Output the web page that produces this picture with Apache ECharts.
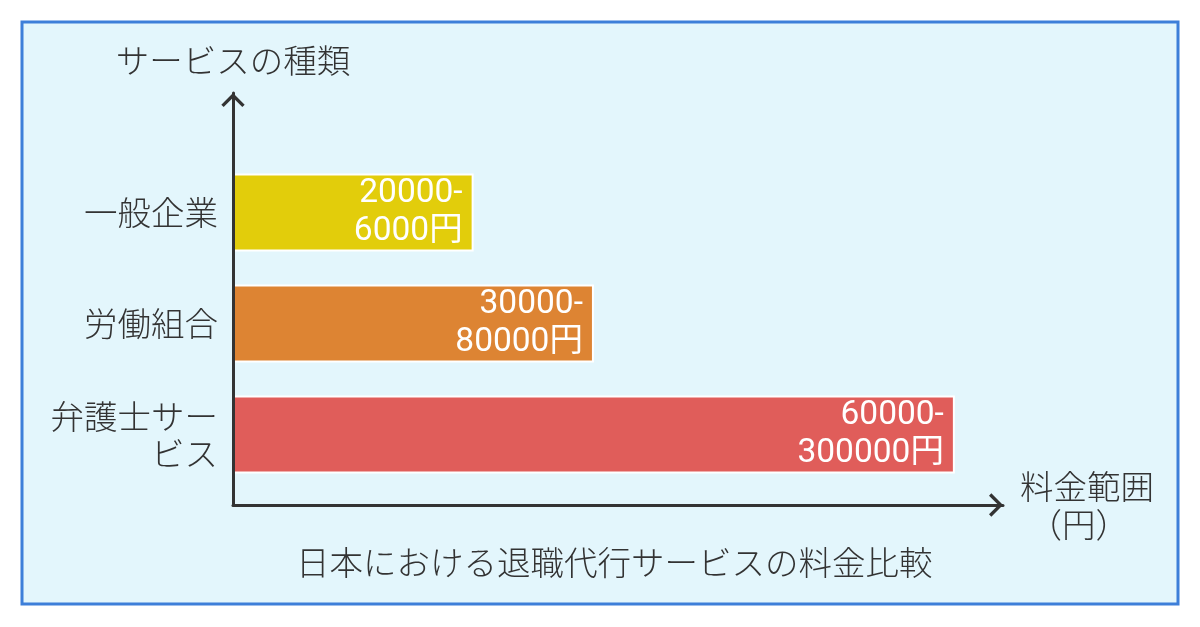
<!DOCTYPE html>
<html>
<head>
<meta charset="utf-8">
<script src="https://cdn.jsdelivr.net/npm/echarts@6/dist/echarts.min.js"></script>
<style>
html,body{margin:0;padding:0;background:#ffffff;}
#chart{width:1200px;height:627px;}
</style>
</head>
<body>
<div id="chart"></div>
<script>
// ---- data ----
const categories = ['一般企業', '労働組合', '弁護士サービス'];
const tickLabels = ['一般企業', '労働組合', '弁護士サー\nビス'];
const lowValues = [20000, 30000, 60000];
const highValues = [6000, 80000, 300000];
const barColors = ['#e2cd0b', '#dd8433', '#e05d5a'];
const yAxisTitle = 'サービスの種類';
const xAxisTitle = '料金範囲\n（円）\u3000';
const chartTitle = '日本における退職代行サービスの料金比較';

const JP = '"Noto Sans CJK JP", "Noto Sans", sans-serif';
const FS = 33.5;
const FW = 300;
const chevron = 'path://M12 0 L24 12 L21.6 14.4 L12 4.8 L2.4 14.4 L0 12 Z';

const chart = echarts.init(document.getElementById('chart'), null, {renderer: 'canvas'});
chart.setOption({
  backgroundColor: '#ffffff',
  animation: false,
  graphic: [{
    type: 'rect', z: -10,
    shape: {x: 22, y: 22, width: 1156, height: 582},
    style: {fill: '#e3f6fc', stroke: '#3d7fd9', lineWidth: 3}
  }],
  title: {
    text: chartTitle, left: 291, top: 541,
    textStyle: {fontFamily: JP, fontSize: FS, fontWeight: FW, color: '#333333'}
  },
  grid: [
    {left: 233, right: 197, top: 157, height: 333, containLabel: false},
    {left: 233, right: 197, top: 93, bottom: 122, containLabel: false}
  ],
  xAxis: [
    {gridIndex: 0, type: 'value', min: 0, max: 64000, show: false},
    {gridIndex: 1, type: 'value', min: 0, max: 1, z: 10,
     axisLine: {show: true, symbol: ['none', chevron], symbolSize: [24, 14], symbolOffset: [0, -7],
                lineStyle: {color: '#333333', width: 3}},
     axisTick: {show: false}, axisLabel: {show: false}, splitLine: {show: false},
     name: xAxisTitle, nameLocation: 'end', nameGap: 84,
     nameTextStyle: {fontFamily: JP, fontSize: FS, fontWeight: FW, color: '#333333', align: 'center', verticalAlign: 'middle', lineHeight: 38}}
  ],
  yAxis: [
    {gridIndex: 0, type: 'category', inverse: true, data: categories,
     axisLine: {show: false}, axisTick: {show: false}, splitLine: {show: false},
     axisLabel: {fontFamily: JP, fontSize: FS, fontWeight: FW, color: '#333333', margin: 15, lineHeight: 37,
                 formatter: (v, i) => tickLabels[i]}},
    {gridIndex: 1, type: 'value', min: 0, max: 1, z: 10,
     axisLine: {show: true, symbol: ['none', chevron], symbolSize: [24, 14], symbolOffset: [0, -7],
                lineStyle: {color: '#333333', width: 3}},
     axisTick: {show: false}, axisLabel: {show: false}, splitLine: {show: false},
     name: yAxisTitle, nameLocation: 'end', nameGap: 16,
     nameTextStyle: {fontFamily: JP, fontSize: FS, fontWeight: FW, color: '#333333'}}
  ],
  series: [{
    type: 'bar', xAxisIndex: 0, yAxisIndex: 0, barWidth: 78,
    data: lowValues.map((v, i) => ({value: v, itemStyle: {color: barColors[i]}})),
    itemStyle: {borderColor: '#ffffff', borderWidth: 2},
    label: {
      show: true, position: 'insideRight', distance: 11, color: '#ffffff',
      fontFamily: 'Roboto, "Noto Sans CJK JP", sans-serif', fontSize: FS, lineHeight: 38,
      formatter: p => lowValues[p.dataIndex] + '-\n' + highValues[p.dataIndex] + '円'
    }
  }]
});
</script>
</body>
</html>
